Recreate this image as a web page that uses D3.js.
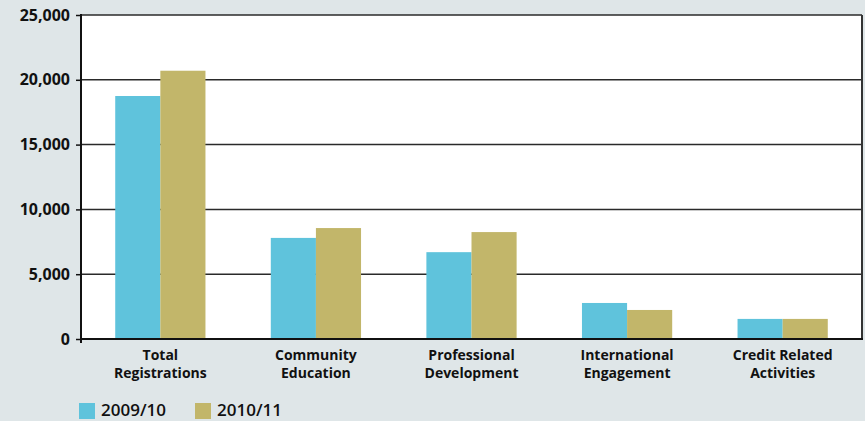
<!DOCTYPE html>
<html>
<head>
<meta charset="utf-8">
<script src="https://cdn.jsdelivr.net/npm/d3@7"></script>
<style>
  html, body { margin: 0; padding: 0; background: #dfe6e8; }
  svg { display: block; }
  text { font-family: "Open Sans", "DejaVu Sans", sans-serif; fill: #111; }
</style>
</head>
<body>
<svg id="chart" width="865" height="421"></svg>
<script>
// Data
const categories = [
    ['Total', 'Registrations'],
    ['Community', 'Education'],
    ['Professional', 'Development'],
    ['International', 'Engagement'],
    ['Credit Related', 'Activities']
];
const seriesNames = ['2009/10', '2010/11'];
const values0910 = [18750, 7800, 6700, 2780, 1550];
const values1011 = [20700, 8560, 8250, 2240, 1550];
const yTicks = [0, 5000, 10000, 15000, 20000, 25000];

const colors = ['#5fc3dc', '#c2b66a'];

const svg = d3.select('#chart');
const margin = { left: 81, right: 3, top: 15, bottom: 82 };
const width = 865 - margin.left - margin.right;
const height = 421 - margin.top - margin.bottom;

const g = svg.append('g').attr('transform', `translate(${margin.left},${margin.top})`);

// Plot background
g.append('rect')
    .attr('width', width).attr('height', height)
    .attr('fill', '#fff');

// Scales
const x0 = d3.scaleBand()
    .domain(d3.range(categories.length))
    .range([0, width])
    .paddingInner(0.42)
    .paddingOuter(0.22);

const x1 = d3.scaleBand()
    .domain(d3.range(seriesNames.length))
    .range([0, x0.bandwidth()]);

const y = d3.scaleLinear().domain([0, 25000]).range([height, 0]);

// Gridlines
g.append('g')
    .selectAll('line')
    .data(yTicks.filter(d => d > 0))
    .join('line')
    .attr('x1', 0).attr('x2', width)
    .attr('y1', d => y(d)).attr('y2', d => y(d))
    .attr('stroke', '#2a2a2a')
    .attr('stroke-width', 1.5);

// Bars
const rows = categories.map((c, i) => [values0910[i], values1011[i]]);
g.append('g')
    .selectAll('g')
    .data(rows)
    .join('g')
    .attr('transform', (d, i) => `translate(${x0(i)},0)`)
    .selectAll('rect')
    .data(d => d)
    .join('rect')
    .attr('x', (d, j) => x1(j))
    .attr('width', x1.bandwidth())
    .attr('y', d => y(d))
    .attr('height', d => height - y(d))
    .attr('fill', (d, j) => colors[j]);

// Right border
g.append('line')
    .attr('x1', width).attr('x2', width)
    .attr('y1', 0).attr('y2', height)
    .attr('stroke', '#333').attr('stroke-width', 2);

// Y axis
const yAxis = d3.axisLeft(y)
    .tickValues(yTicks)
    .tickSize(5)
    .tickPadding(6)
    .tickFormat(d3.format(','));
const ya = g.append('g').call(yAxis);
ya.select('.domain').remove();
ya.selectAll('.tick line').attr('stroke', '#111').attr('stroke-width', 1.5);
ya.selectAll('.tick text')
    .attr('font-size', 16)
    .attr('font-weight', 700)
    .style('font-family', '"Open Sans", sans-serif')
    .attr('fill', '#111');

g.append('line')
    .attr('x1', 0).attr('x2', 0)
    .attr('y1', -1).attr('y2', height + 4)
    .attr('stroke', '#111').attr('stroke-width', 2);

// Baseline
g.append('line')
    .attr('x1', 0).attr('x2', width + 1)
    .attr('y1', height).attr('y2', height)
    .attr('stroke', '#111').attr('stroke-width', 2);

// Category labels
const labels = g.append('g')
    .selectAll('text')
    .data(categories)
    .join('text')
    .attr('text-anchor', 'middle')
    .attr('font-size', 14)
    .attr('font-weight', 700)
    .attr('transform', (d, i) => `translate(${x0(i) + x0.bandwidth() / 2},${height + 21})`);
labels.selectAll('tspan')
    .data(d => d)
    .join('tspan')
    .attr('x', 0)
    .attr('dy', (d, k) => k === 0 ? 0 : 18)
    .text(d => d);

// Legend
const legend = svg.append('g').attr('transform', 'translate(79,403)');
const legendX = [0, 116];
seriesNames.forEach((name, i) => {
    legend.append('rect')
        .attr('x', legendX[i]).attr('y', 0)
        .attr('width', 16).attr('height', 16)
        .attr('fill', colors[i]);
    legend.append('text')
        .attr('x', legendX[i] + 22).attr('y', 13)
        .attr('font-size', 17)
        .attr('font-weight', 600)
        .text(name);
});
</script>
</body>
</html>
